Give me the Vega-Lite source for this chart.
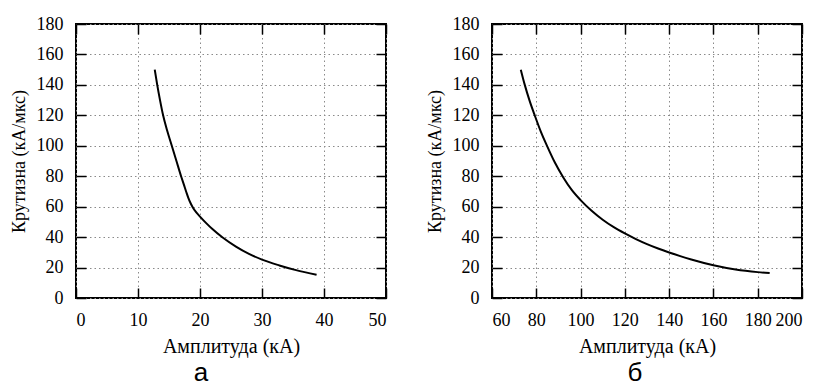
{
  "$schema": "https://vega.github.io/schema/vega-lite/v6.json",
  "background": "white",
  "padding": {"left": 9, "top": 14, "right": 3, "bottom": 0},
  "spacing": 37,
  "config": {
    "font": "Liberation Serif",
    "view": {"stroke": "black", "strokeWidth": 2},
    "axis": {
      "labelFont": "Liberation Serif",
      "titleFont": "Liberation Serif",
      "labelFontSize": 18,
      "titleFontSize": 18,
      "titleFontWeight": 400,
      "labelFontWeight": 400,
      "labelColor": "black",
      "titleColor": "black",
      "domain": false,
      "tickColor": "black",
      "tickWidth": 1.5,
      "tickSize": -10,
      "grid": true,
      "gridColor": "#8a8a8a",
      "gridDash": [1.5, 3],
      "gridWidth": 1,
      "labelPadding": 23,
      "titlePadding": 8
    },
    "axisX": {"titleFontSize": 20, "titlePadding": 7},
    "title": {"font": "Liberation Sans", "fontSize": 26, "fontWeight": 400, "color": "black", "orient": "bottom", "offset": 0, "baseline": "bottom"}
  },
  "datasets": {
    "a": [
      {"amp": 12.7, "slope": 150},
      {"amp": 13.1, "slope": 140},
      {"amp": 13.55, "slope": 130},
      {"amp": 14.05, "slope": 120},
      {"amp": 14.7, "slope": 110},
      {"amp": 15.45, "slope": 100},
      {"amp": 16.2, "slope": 90},
      {"amp": 16.95, "slope": 80},
      {"amp": 17.4, "slope": 74.5},
      {"amp": 17.8, "slope": 69.5},
      {"amp": 18.1, "slope": 66},
      {"amp": 18.45, "slope": 62.6},
      {"amp": 18.8, "slope": 59.8},
      {"amp": 19.4, "slope": 56.2},
      {"amp": 20.0, "slope": 53.5},
      {"amp": 21.0, "slope": 49.2},
      {"amp": 22.0, "slope": 45.3},
      {"amp": 23.6, "slope": 39.9},
      {"amp": 25.8, "slope": 33.8},
      {"amp": 27.9, "slope": 29.0},
      {"amp": 30.0, "slope": 25.2},
      {"amp": 32.8, "slope": 21.4},
      {"amp": 35.5, "slope": 18.3},
      {"amp": 38.8, "slope": 15.2}
    ],
    "b": [
      {"amp": 73.0, "slope": 150},
      {"amp": 74.8, "slope": 140},
      {"amp": 77.0, "slope": 129.5},
      {"amp": 79.3, "slope": 120},
      {"amp": 82.0, "slope": 109.5},
      {"amp": 85.0, "slope": 99.5},
      {"amp": 88.4, "slope": 89.0},
      {"amp": 92.2, "slope": 79.2},
      {"amp": 96.0, "slope": 71.0},
      {"amp": 100.0, "slope": 64.3},
      {"amp": 105.0, "slope": 57.3},
      {"amp": 110.0, "slope": 51.4},
      {"amp": 115.0, "slope": 46.5},
      {"amp": 120.0, "slope": 42.4},
      {"amp": 125.0, "slope": 38.7},
      {"amp": 130.0, "slope": 35.4},
      {"amp": 135.0, "slope": 32.5},
      {"amp": 140.0, "slope": 29.9},
      {"amp": 145.0, "slope": 27.5},
      {"amp": 150.0, "slope": 25.3},
      {"amp": 160.0, "slope": 21.5},
      {"amp": 170.0, "slope": 18.7},
      {"amp": 180.0, "slope": 17.0},
      {"amp": 185.4, "slope": 16.4}
    ]
  },
  "hconcat": [
    {
      "width": 310,
      "height": 274,
      "data": {"name": "a"},
      "title": {"text": "а", "anchor": "middle", "dx": -30},
      "resolve": {"axis": {"x": "independent", "y": "independent"}},
      "layer": [
        {
          "mark": {"type": "line", "color": "black", "strokeWidth": 2, "interpolate": "monotone"},
          "encoding": {
            "x": {"field": "amp", "type": "quantitative", "scale": {"domain": [0, 50], "nice": false},
              "axis": {"values": [0, 10, 20, 30, 40, 50], "title": "Амплитуда (кА)", "orient": "bottom"}},
            "y": {"field": "slope", "type": "quantitative", "scale": {"domain": [0, 180], "nice": false},
              "axis": {"values": [0, 20, 40, 60, 80, 100, 120, 140, 160, 180], "title": "Крутизна (кА/мкс)", "orient": "left"}}
          }
        },
        {
          "mark": {"type": "line", "opacity": 0},
          "encoding": {
            "x": {"field": "amp", "type": "quantitative",
              "axis": {"values": [0, 10, 20, 30, 40, 50], "title": null, "orient": "top", "labels": false, "grid": false}},
            "y": {"field": "slope", "type": "quantitative",
              "axis": {"values": [0, 20, 40, 60, 80, 100, 120, 140, 160, 180], "title": null, "orient": "right", "labels": false, "grid": false}}
          }
        }
      ]
    },
    {
      "width": 310,
      "height": 274,
      "data": {"name": "b"},
      "title": {"text": "б", "anchor": "middle", "dx": -12},
      "resolve": {"axis": {"x": "independent", "y": "independent"}},
      "layer": [
        {
          "mark": {"type": "line", "color": "black", "strokeWidth": 2, "interpolate": "monotone"},
          "encoding": {
            "x": {"field": "amp", "type": "quantitative", "scale": {"domain": [60, 200], "nice": false},
              "axis": {"values": [60, 80, 100, 120, 140, 160, 180, 200], "title": "Амплитуда (кА)", "orient": "bottom"}},
            "y": {"field": "slope", "type": "quantitative", "scale": {"domain": [0, 180], "nice": false},
              "axis": {"values": [0, 20, 40, 60, 80, 100, 120, 140, 160, 180], "title": "Крутизна (кА/мкс)", "orient": "left"}}
          }
        },
        {
          "mark": {"type": "line", "opacity": 0},
          "encoding": {
            "x": {"field": "amp", "type": "quantitative",
              "axis": {"values": [60, 80, 100, 120, 140, 160, 180, 200], "title": null, "orient": "top", "labels": false, "grid": false}},
            "y": {"field": "slope", "type": "quantitative",
              "axis": {"values": [0, 20, 40, 60, 80, 100, 120, 140, 160, 180], "title": null, "orient": "right", "labels": false, "grid": false}}
          }
        }
      ]
    }
  ]
}
